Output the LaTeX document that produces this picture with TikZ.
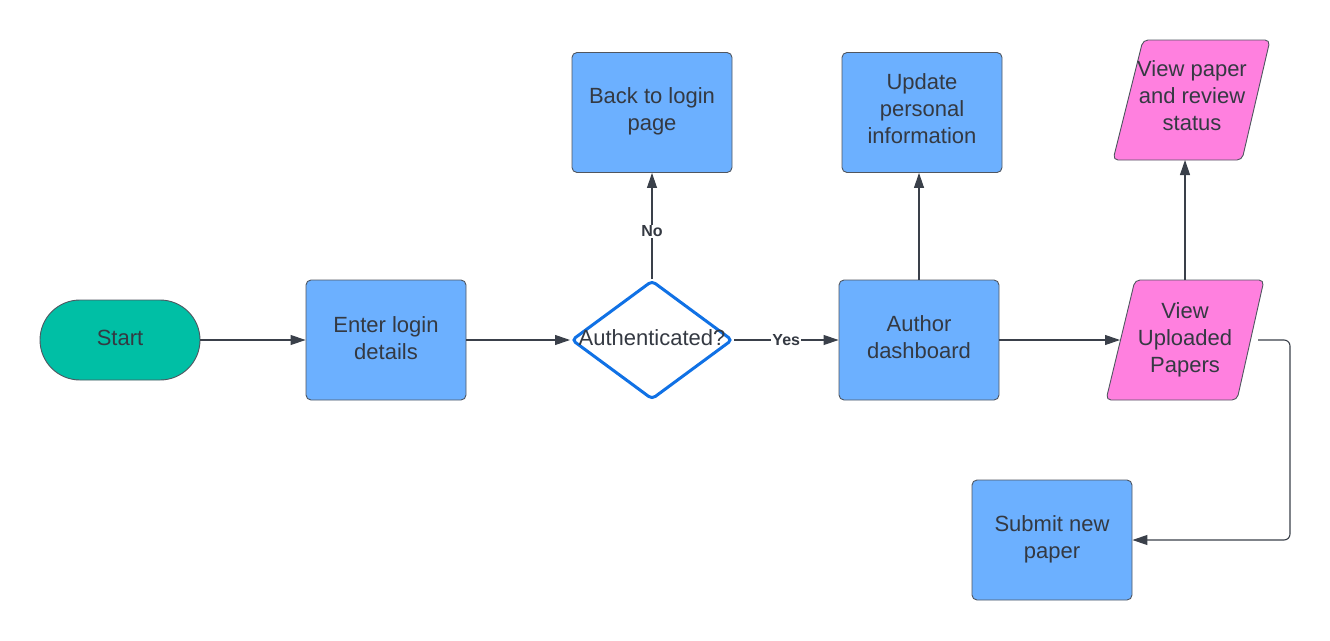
\documentclass[tikz,border=0pt]{standalone}
\usepackage{fontspec}
\setmainfont{Liberation Sans}
\usetikzlibrary{shapes.geometric,arrows.meta,positioning}
\definecolor{boxblue}{RGB}{108,176,255}
\definecolor{teal1}{RGB}{0,191,165}
\definecolor{pink1}{RGB}{255,128,223}
\definecolor{txt}{RGB}{52,57,66}
\definecolor{edge}{RGB}{80,86,96}
\definecolor{dblue}{RGB}{16,113,229}
\definecolor{arr}{RGB}{58,64,74}
\tikzset{
  tf/.style={text=txt, font=\fontsize{22}{27}\selectfont, align=center, inner sep=0pt},
  box/.style={draw=edge, line width=0.9pt, fill=boxblue, rounded corners=5pt, minimum width=160pt, minimum height=120pt, inner sep=0pt},
  startnode/.style={draw=edge, line width=0.9pt, fill=teal1, rounded corners=40pt, minimum width=160pt, minimum height=80pt, inner sep=0pt},
  decide/.style={draw=dblue, line width=3pt, fill=white, diamond, aspect=1.37, minimum width=161pt, minimum height=119pt, rounded corners=4pt, inner sep=0pt},
  iopoly/.style={draw=edge, line width=0.9pt, fill=pink1, rounded corners=5pt},
  conn/.style={draw=arr, line width=1.1pt, -{Triangle[length=15pt,width=10pt]}},
  lbl/.style={fill=white, text=txt, font=\bfseries\fontsize{16}{19}\selectfont, inner sep=1pt}
}
\begin{document}
\begin{tikzpicture}[x=1pt,y=-1pt]
\useasboundingbox (0,0) rectangle (1330,640);
\node[startnode, label={[tf,yshift=2pt]center:Start}] (start) at (120,340) {};
\node[box, label={[tf,yshift=2pt]center:Enter login\\details}] (enter) at (386,340) {};
\node[decide, label={[tf,yshift=2pt]center:Authenticated?}] (auth) at (652,340) {};
\node[box, label={[tf,yshift=1pt]center:Back to login\\page}] (back) at (652,112.5) {};
\node[box, label={[tf,yshift=3pt]center:Author\\dashboard}] (dash) at (919,340) {};
\node[box, label={[tf,yshift=4pt]center:Update\\personal\\information}] (update) at (922,112.5) {};
\draw[iopoly] (1135,280) -- (1264,280) -- (1237,400) -- (1106,400) -- cycle;
\node[tf, minimum width=158pt, minimum height=120pt] (view) at (1185,340) {View\\Uploaded\\Papers};
\draw[iopoly] (1143,40) -- (1270,40) -- (1242,160) -- (1113,160) -- cycle;
\node[tf, minimum width=158pt, minimum height=120pt] (vps) at (1192,96) {View paper\\and review\\status};
\node[box, label={[tf,yshift=1pt]center:Submit new\\paper}] (submit) at (1052,540) {};
\coordinate (vin) at (1120,340);
\coordinate (vout) at (1258,340);
\coordinate (vup) at (1185,280);
\coordinate (vpsb) at (1185,160);
\coordinate (cor) at (1290,340);
\coordinate (cor2) at (1290,540);
\draw[conn] (start.east) -- (enter.west);
\draw[conn] (enter.east) -- (auth.west);
\draw[conn] (auth.east) -- node[lbl, pos=0.5] {Yes} (dash.west);
\draw[conn] (auth.north) -- node[lbl, pos=0.45] {No} (back.south);
\draw[conn] (dash.north) -- (dash.north |- update.south);
\draw[conn] (dash.east) -- (vin);
\draw[conn] (vup) -- (vpsb);
\draw[conn, rounded corners=6pt] (vout) -- (cor) -- (cor2) -- (submit.east);
\end{tikzpicture}
\end{document}
